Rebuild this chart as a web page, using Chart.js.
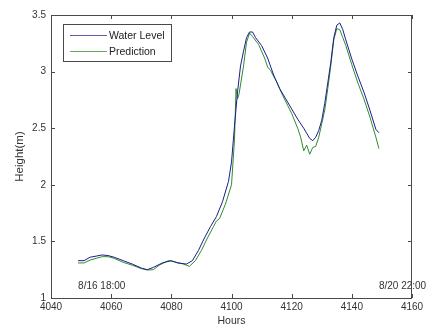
<!DOCTYPE html>
<html>
<head>
<meta charset="utf-8">
<script src="https://cdn.jsdelivr.net/npm/chart.js@4"></script>
<style>
  html, body { margin: 0; padding: 0; background: #fff; }
  canvas { display: block; }
</style>
</head>
<body>
<canvas id="chart" width="431" height="327"></canvas>
<script>
// water level (observed)
const waterHours = [4049, 4051, 4053, 4055, 4057, 4059, 4061, 4064, 4067, 4070, 4072, 4074, 4077, 4080,
  4082, 4085, 4087, 4089, 4091, 4093, 4095, 4097, 4099, 4100, 4101, 4102, 4103, 4104, 4105, 4106, 4107, 4108,
  4110, 4112, 4114, 4116, 4118, 4120, 4122, 4124, 4126, 4127, 4128, 4129, 4130, 4131, 4132, 4133, 4134,
  4135, 4136, 4137, 4138, 4140, 4142, 4144, 4146, 4148, 4149];
const waterLevel = [1.33, 1.33, 1.36, 1.37, 1.38, 1.375, 1.36, 1.33, 1.30, 1.265, 1.25, 1.27, 1.31, 1.33,
  1.31, 1.30, 1.33, 1.42, 1.53, 1.63, 1.72, 1.85, 2.03, 2.20, 2.52, 2.82, 3.05, 3.18, 3.30, 3.35, 3.35, 3.30,
  3.23, 3.12, 2.97, 2.85, 2.76, 2.67, 2.58, 2.50, 2.41, 2.39, 2.42, 2.48, 2.57, 2.72, 2.90, 3.08, 3.30,
  3.41, 3.43, 3.37, 3.28, 3.11, 2.96, 2.82, 2.66, 2.49, 2.46];

// model prediction
const predHours = [4049, 4051, 4053, 4055, 4057, 4059, 4061, 4064, 4067, 4070, 4072, 4074, 4076, 4079,
  4081, 4084, 4086, 4088, 4090, 4092, 4094, 4095, 4096, 4098, 4100, 4101, 4101.5, 4102, 4102.5, 4104,
  4105, 4106, 4107, 4109, 4111, 4112, 4113, 4115, 4117, 4120, 4122, 4123, 4124, 4125, 4126, 4127, 4128,
  4129, 4130, 4131, 4132, 4133, 4134, 4135, 4136, 4137, 4138, 4140, 4142, 4144, 4146, 4148, 4149];
const prediction = [1.31, 1.31, 1.335, 1.35, 1.365, 1.365, 1.35, 1.315, 1.29, 1.26, 1.247, 1.25, 1.29, 1.33,
  1.32, 1.30, 1.28, 1.33, 1.42, 1.53, 1.63, 1.68, 1.70, 1.83, 2.00, 2.40, 2.85, 2.76, 2.80, 3.05,
  3.26, 3.34, 3.31, 3.24, 3.12, 3.04, 3.01, 2.91, 2.79, 2.63, 2.50, 2.42, 2.30, 2.35, 2.27, 2.33, 2.34,
  2.42, 2.54, 2.66, 2.85, 3.05, 3.28, 3.38, 3.37, 3.30, 3.23, 3.06, 2.90, 2.76, 2.60, 2.42, 2.32];

const seriesNames = ['Water Level', 'Prediction'];
const xTicks = [4040, 4060, 4080, 4100, 4120, 4140, 4160];
const yTicks = [1, 1.5, 2, 2.5, 3, 3.5];
const dateLabels = ['8/16 18:00', '8/20 22:00'];
const dateHours = [waterHours[0], waterHours[waterHours.length - 1]];
const dateLevel = 1.1;

const toPoints = (xs, ys) => xs.map((x, i) => ({ x: x, y: ys[i] }));
const axisColor = '#4a4a4a';
const textColor = '#333';
const fontFamily = '"Liberation Sans", Arial, sans-serif';
const legendLineColors = ['#5c5cae', '#5fae5f'];

// matlab style box: frame, inward ticks, legend, date notes
const matlabBox = {
  id: 'matlabBox',
  afterDraw(chart) {
    const { ctx, chartArea: a, scales } = chart;
    const xs = scales.x, ys = scales.y;
    ctx.save();
    ctx.strokeStyle = axisColor;
    ctx.lineWidth = 1;
    ctx.strokeRect(a.left + 0.5, a.top + 0.5, a.right - a.left - 1, a.bottom - a.top);
    ctx.beginPath();
    xTicks.forEach(v => {
      const px = Math.round(xs.getPixelForValue(v)) + 0.5;
      ctx.moveTo(px, a.bottom); ctx.lineTo(px, a.bottom - 4);
      ctx.moveTo(px, a.top); ctx.lineTo(px, a.top + 4);
    });
    yTicks.forEach(v => {
      const py = Math.round(ys.getPixelForValue(v)) + 0.5;
      ctx.moveTo(a.left, py); ctx.lineTo(a.left + 4, py);
      ctx.moveTo(a.right, py); ctx.lineTo(a.right - 4, py);
    });
    ctx.stroke();

    // date notes
    ctx.fillStyle = textColor;
    ctx.font = '10px ' + fontFamily;
    ctx.textBaseline = 'middle';
    ctx.textAlign = 'left';
    dateLabels.forEach((t, i) => {
      ctx.fillText(t, xs.getPixelForValue(dateHours[i]), ys.getPixelForValue(dateLevel));
    });

    // legend
    const lx = a.left + 12, ly = a.top + 9;
    ctx.fillStyle = '#fff';
    ctx.fillRect(lx, ly, 108, 37);
    ctx.strokeStyle = axisColor;
    ctx.strokeRect(lx + 0.5, ly + 0.5, 108, 37);
    ctx.font = '10.5px ' + fontFamily;
    chart.data.datasets.forEach((ds, i) => {
      const ry = ly + 11 + i * 16;
      ctx.strokeStyle = legendLineColors[i];
      ctx.beginPath();
      ctx.moveTo(lx + 7, ry + 0.5); ctx.lineTo(lx + 44, ry + 0.5);
      ctx.stroke();
      ctx.fillStyle = '#222';
      ctx.fillText(ds.label, lx + 46, ry + 1);
    });
    ctx.restore();
  }
};

new Chart(document.getElementById('chart'), {
  type: 'scatter',
  data: {
    datasets: [{
      label: seriesNames[0],
      data: toPoints(waterHours, waterLevel),
      borderColor: '#1c1c8c',
      borderWidth: 1,
      showLine: true,
      pointRadius: 0,
      tension: 0
    }, {
      label: seriesNames[1],
      data: toPoints(predHours, prediction),
      borderColor: '#2e8b2e',
      borderWidth: 1,
      showLine: true,
      pointRadius: 0,
      tension: 0
    }]
  },
  options: {
    responsive: false,
    animation: false,
    devicePixelRatio: 1,
    layout: { padding: { left: 0, right: 19, top: 15, bottom: 0 } },
    plugins: { legend: { display: false }, tooltip: { enabled: false } },
    scales: {
      x: {
        type: 'linear',
        min: 4040, max: 4160,
        afterBuildTicks: s => { s.ticks = xTicks.map(v => ({ value: v })); },
        afterFit: s => { s.height = 29; },
        grid: { display: false, drawTicks: false },
        border: { display: false },
        ticks: { color: textColor, font: { size: 10, family: fontFamily }, padding: 3, maxRotation: 0,
          callback: v => String(v) },
        title: { display: true, text: 'Hours', color: textColor, padding: { top: 0, bottom: 0 },
          font: { size: 10.5, family: fontFamily } }
      },
      y: {
        min: 1, max: 3.5,
        afterBuildTicks: s => { s.ticks = yTicks.map(v => ({ value: v })); },
        afterFit: s => { s.width = 51; },
        grid: { display: false, drawTicks: false },
        border: { display: false },
        ticks: { color: textColor, font: { size: 10, family: fontFamily }, padding: 5,
          callback: v => String(v) },
        title: { display: true, text: 'Height(m)', color: textColor, padding: { top: 13, bottom: 0 },
          font: { size: 11.5, family: fontFamily } }
      }
    }
  },
  plugins: [matlabBox]
});
</script>
</body>
</html>
